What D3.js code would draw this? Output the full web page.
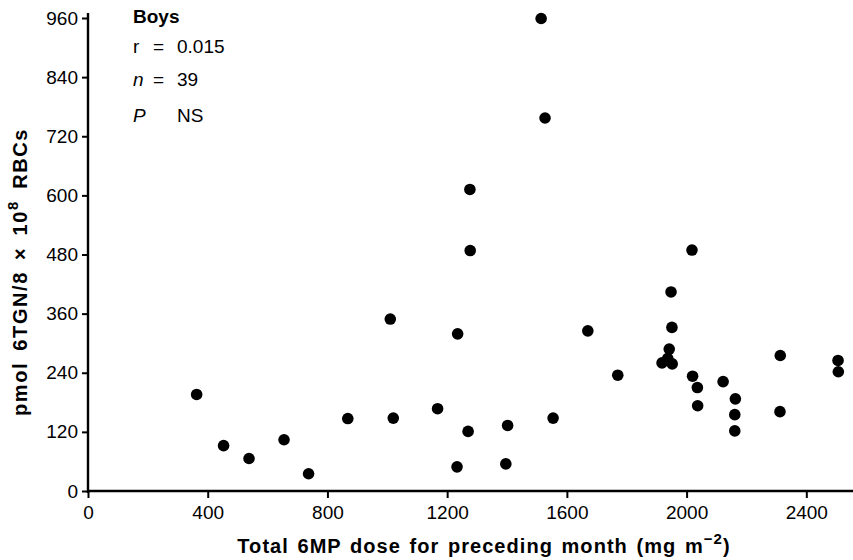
<!DOCTYPE html>
<html>
<head>
<meta charset="utf-8">
<script src="https://cdn.jsdelivr.net/npm/d3@7"></script>
<style>
  html, body { margin: 0; padding: 0; background: #fff; }
  svg { display: block; }
  text { font-family: "Liberation Sans", Arial, Helvetica, sans-serif; fill: #000; }
</style>
</head>
<body>
<svg id="chart" width="853" height="560"></svg>
<script>
// Total 6MP dose for preceding month (mg m^-2)
const dose = [363, 453, 538, 655, 737, 868,
  1010, 1235, 1020, 1168, 1270, 1402, 1554, 1233, 1396,
  1514, 1527, 1276, 1277,
  1670, 1770,
  2018, 1948, 1951, 1942, 1918, 1952, 1937, 2020, 2036, 2037, 2122,
  2163, 2161, 2161, 2313, 2312, 2506, 2507];
// pmol 6TGN / 8 x 10^8 RBCs
const tgn = [196, 92, 66, 104, 35, 147,
  349, 319, 148, 167, 121, 133, 148, 49, 55,
  959, 757, 612, 488,
  325, 235,
  489, 404, 332, 288, 260, 258, 269, 233, 210, 173, 222,
  187, 155, 122, 275, 161, 265, 242];
const xTicks = [0, 400, 800, 1200, 1600, 2000, 2400];
const yTicks = [0, 120, 240, 360, 480, 600, 720, 840, 960];
const legendLines = [
  {label: "Boys", value: ""},
  {label: "r", eq: "=", value: "0.015"},
  {label: "n", eq: "=", value: "39"},
  {label: "P", eq: "", value: "NS"}
];

const svg = d3.select("#chart");
const x = d3.scaleLinear().domain([0, 2556]).range([88, 853]);
const y = d3.scaleLinear().domain([0, 960]).range([491, 18]);

// x axis
const gx = svg.append("g").attr("transform", "translate(0,491)")
  .call(d3.axisBottom(x).tickValues(xTicks).tickSize(7).tickPadding(6).tickFormat(d3.format("d")));
gx.select(".domain").attr("stroke", "#000").attr("stroke-width", 2.4).attr("d", "M87,0H853");
gx.selectAll(".tick line").attr("stroke", "#000").attr("stroke-width", 2);
gx.selectAll(".tick text").attr("font-size", 19).attr("font-family", "Liberation Sans, Arial, sans-serif").attr("dy", "0.8em");

// y axis
const gy = svg.append("g").attr("transform", "translate(88,0)")
  .call(d3.axisLeft(y).tickValues(yTicks).tickSize(6).tickPadding(4).tickFormat(d3.format("d")));
gy.select(".domain").attr("stroke", "#000").attr("stroke-width", 2.4).attr("d", "M0,13V493");
gy.selectAll(".tick line").attr("stroke", "#000").attr("stroke-width", 2);
gy.selectAll(".tick text").attr("font-size", 19).attr("font-family", "Liberation Sans, Arial, sans-serif");

// points
svg.append("g").selectAll("circle").data(dose.map((d, i) => [d, tgn[i]]))
  .join("circle")
  .attr("cx", d => x(d[0]))
  .attr("cy", d => y(d[1]))
  .attr("r", 5.8)
  .attr("fill", "#000");

// legend
const lg = svg.append("g").attr("font-size", 19);
const baselines = [23, 53, 86, 122];
legendLines.forEach((l, i) => {
  if (i === 0) {
    lg.append("text").attr("x", 133).attr("y", baselines[i]).attr("font-weight", "bold").text(l.label);
    return;
  }
  lg.append("text").attr("x", 133).attr("y", baselines[i])
    .attr("font-style", i >= 2 ? "italic" : "normal").text(l.label);
  if (l.eq) lg.append("text").attr("x", 153).attr("y", baselines[i]).text(l.eq);
  lg.append("text").attr("x", 177).attr("y", baselines[i]).text(l.value);
});

// x axis title
const xt = svg.append("text").attr("x", 484).attr("y", 553).attr("text-anchor", "middle")
  .attr("font-size", 20).attr("font-weight", "bold").attr("letter-spacing", 1.05).attr("word-spacing", 2);
xt.append("tspan").text("Total 6MP dose for preceding month (mg m");
xt.append("tspan").attr("dy", -9).attr("font-size", 15).text("\u22122");
xt.append("tspan").attr("dy", 9).text(")");

// y axis title
const yt = svg.append("text").attr("transform", "translate(27,272) rotate(-90)")
  .attr("text-anchor", "middle").attr("font-size", 20).attr("font-weight", "bold")
  .attr("letter-spacing", 1.6).attr("word-spacing", 4);
yt.append("tspan").text("pmol 6TGN/8 \u00d7 10");
yt.append("tspan").attr("dy", -9).attr("font-size", 15).text("8");
yt.append("tspan").attr("dy", 9).text(" RBCs");
</script>
</body>
</html>
